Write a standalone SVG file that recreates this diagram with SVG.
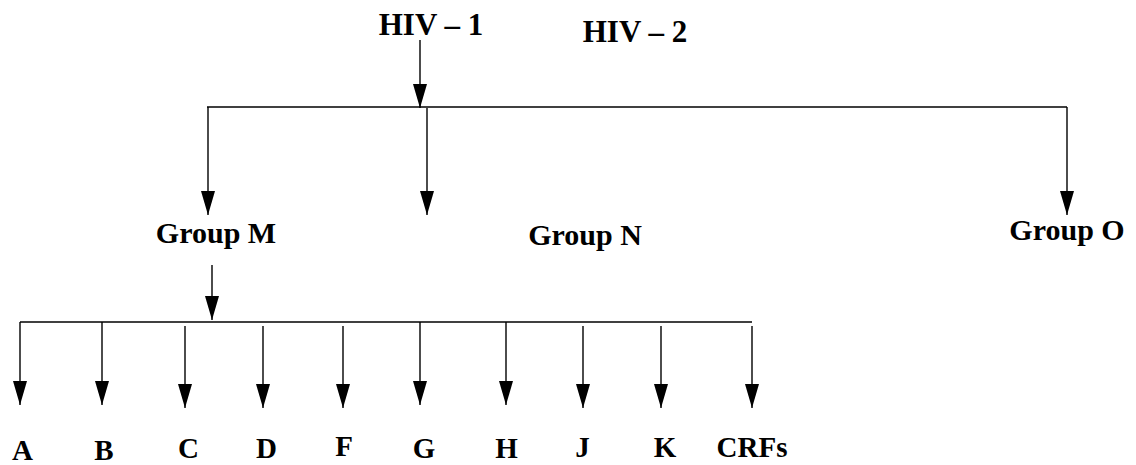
<svg xmlns="http://www.w3.org/2000/svg" width="1136" height="465" viewBox="0 0 1136 465">
<style>
text{font-family:"Liberation Serif","Times New Roman",serif;font-weight:bold;fill:#000;text-anchor:middle}
.t{font-size:31px}
.g{font-size:30px}
.s{font-size:29px}
.c{stroke:#000;stroke-width:1.4;fill:none}
.a{marker-end:url(#ah)}
</style>
<defs>
<marker id="ah" markerUnits="userSpaceOnUse" markerWidth="24" markerHeight="14" refX="24" refY="7" orient="auto" viewBox="0 0 24 14">
<path d="M0,0 L24,7 L0,14 z" fill="#000"/>
</marker>
</defs>
<g id="connectors">
<line class="c a" x1="420" y1="40" x2="420" y2="108"/>
<line class="c" x1="207" y1="107" x2="1067" y2="107"/>
<line class="c a" x1="208" y1="107" x2="208" y2="215"/>
<line class="c a" x1="427" y1="108" x2="427" y2="215"/>
<line class="c a" x1="1067" y1="107" x2="1067" y2="215"/>
<line class="c a" x1="212" y1="265" x2="212" y2="320"/>
<line class="c" x1="20" y1="322" x2="752" y2="322"/>
<line class="c a" x1="20" y1="322" x2="20" y2="405"/>
<line class="c a" x1="102" y1="322" x2="102" y2="405"/>
<line class="c a" x1="185" y1="326" x2="185" y2="408"/>
<line class="c a" x1="263" y1="326" x2="263" y2="408"/>
<line class="c a" x1="343" y1="326" x2="343" y2="408"/>
<line class="c a" x1="420" y1="322" x2="420" y2="405"/>
<line class="c a" x1="506" y1="322" x2="506" y2="405"/>
<line class="c a" x1="583" y1="326" x2="583" y2="408"/>
<line class="c a" x1="661" y1="326" x2="661" y2="408"/>
<line class="c a" x1="752" y1="326" x2="752" y2="408"/>
</g>
<g id="hiv1"><text class="t" x="431" y="35">HIV – 1</text></g>
<g id="hiv2"><text class="t" x="635" y="42">HIV – 2</text></g>
<g id="groupM"><text class="g" x="216" y="243">Group M</text></g>
<g id="groupN"><text class="g" x="585" y="245">Group N</text></g>
<g id="groupO"><text class="g" x="1067" y="240">Group O</text></g>
<g id="A"><text class="s" x="22.5" y="460">A</text></g>
<g id="B"><text class="s" x="104" y="460">B</text></g>
<g id="C"><text class="s" x="188.5" y="458">C</text></g>
<g id="D"><text class="s" x="266.5" y="458">D</text></g>
<g id="F"><text class="s" x="344" y="456">F</text></g>
<g id="G"><text class="s" x="424" y="458">G</text></g>
<g id="H"><text class="s" x="506.5" y="458">H</text></g>
<g id="J"><text class="s" x="582.5" y="457">J</text></g>
<g id="K"><text class="s" x="665" y="457">K</text></g>
<g id="CRFs"><text class="s" x="752" y="457">CRFs</text></g>
</svg>
